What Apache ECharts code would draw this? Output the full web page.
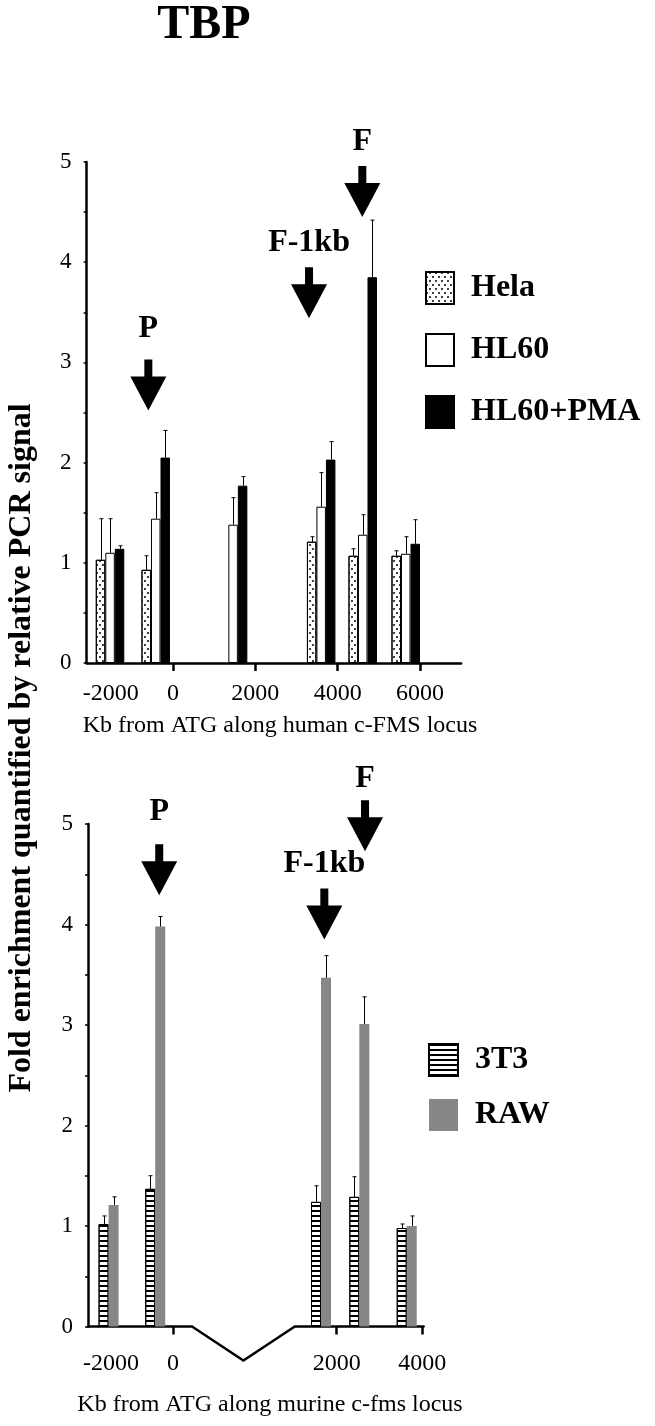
<!DOCTYPE html>
<html lang="en">
<head>
<meta charset="UTF-8">
<title>TBP</title>
<script src="https://cdn.jsdelivr.net/npm/echarts@6/dist/echarts.min.js"></script>
<style>
  html, body { margin: 0; padding: 0; background: #fff; }
  #chart { width: 655px; height: 1426px; }
</style>
</head>
<body>
<div id="chart"></div>
<script>
// ---- top panel: human c-FMS locus ----
var humanPos = [-1530, -420, 1460, 3600, 4610, 5655];
var hela = [1.03, 0.93, null, 1.21, 1.07, 1.07];
var helaErr = [0.41, 0.14, null, 0.05, 0.07, 0.05];
var hl60 = [1.10, 1.44, 1.38, 1.56, 1.28, 1.09];
var hl60Err = [0.34, 0.26, 0.27, 0.34, 0.20, 0.17];
var pma = [1.14, 2.05, 1.77, 2.03, 3.85, 1.19];
var pmaErr = [0.03, 0.27, 0.09, 0.18, 0.57, 0.24];
// arrows: [x, tip, label y]
var humanArrows = [[-600, 2.52, 3.34], [3305, 3.44, 4.19], [4600, 4.45, 5.2]];
var humanArrowText = ['P', 'F-1kb', 'F'];
var humanTicks = [0, 2000, 4000, 6000];
var humanLabels = [-2000, 0, 2000, 4000, 6000];

// ---- bottom panel: murine c-fms locus (axis is broken between the two parts) ----
var murinePosA = [-1515, -416];
var murinePosB = [1633, 2528, 3636];
var t3 = [1.02, 1.37, 1.24, 1.29, 0.98];
var t3Err = [0.08, 0.13, 0.16, 0.20, 0.04];
var raw = [1.21, 3.98, 3.47, 3.01, 1.00];
var rawErr = [0.08, 0.10, 0.22, 0.27, 0.10];
var murineArrowsA = [[-322, 4.29, 5.12]];
var murineArrowTextA = ['P'];
var murineArrowsB = [[1710, 3.85, 4.60], [2661, 4.73, 5.45]];
var murineArrowTextB = ['F-1kb', 'F'];
var murineTicksA = [0], murineLabelsA = [-2000, 0];
var murineTicksB = [2000, 4000], murineLabelsB = [2000, 4000];

var serif = "'Liberation Serif', 'DejaVu Serif', serif";

// grid layout (px)
var G0 = {left: 86.6, top: 162, width: 374.5, height: 501};
var G1 = {left: 88, top: 824, width: 104, height: 502.5};
var G2 = {left: 294.8, top: 824, width: 128.8, height: 502.5};

function zip(xs, ys) {
    return xs.map(function (x, i) { return [x, ys[i] == null ? '-' : ys[i]]; });
}
function errData(xs, ys, es) {
    var out = [];
    xs.forEach(function (x, i) { if (ys[i] != null) out.push([x, ys[i], es[i]]); });
    return out;
}

var dots = {
    symbol: 'circle', symbolSize: 1, color: '#000',
    dashArrayX: [[2, 4], [0, 3, 2, 1]], dashArrayY: [2, 2]
};
var stripes = {
    symbol: 'rect', symbolSize: 1, color: '#000',
    dashArrayX: [[10, 0]], dashArrayY: [2, 3]
};

function barSeries(name, xi, data, color, decal, border, width) {
    return {
        name: name, type: 'bar', xAxisIndex: xi, yAxisIndex: xi,
        barWidth: width, barGap: '0%', data: data,
        itemStyle: {
            color: color, decal: decal,
            borderColor: border ? '#000' : color, borderWidth: border ? 1 : 0
        }
    };
}

function errSeries(xi, data, offset) {
    return {
        type: 'custom', xAxisIndex: xi, yAxisIndex: xi, silent: true, z: 5, data: data,
        renderItem: function (params, api) {
            var p0 = api.coord([api.value(0), api.value(1)]);
            var p1 = api.coord([api.value(0), api.value(1) + api.value(2)]);
            var x = Math.round(p0[0] + offset) + 0.5;
            return {
                type: 'group', children: [
                    {type: 'line', shape: {x1: x, y1: p0[1], x2: x, y2: p1[1]}, style: {stroke: '#000', lineWidth: 1}},
                    {type: 'line', shape: {x1: x - 2, y1: p1[1], x2: x + 2, y2: p1[1]}, style: {stroke: '#000', lineWidth: 1}}
                ]
            };
        }
    };
}

function arrowSeries(xi, pts, texts) {
    return {
        type: 'custom', xAxisIndex: xi, yAxisIndex: xi, silent: true, z: 6, clip: false, data: pts,
        renderItem: function (params, api) {
            var tip = api.coord([api.value(0), api.value(1)]);
            var lab = api.coord([api.value(0), api.value(2)]);
            var x = tip[0], y = tip[1];
            return {
                type: 'group', children: [
                    {type: 'polygon', shape: {points: [[x - 4, y - 51], [x + 4, y - 51], [x + 4, y - 34], [x + 18, y - 34], [x, y], [x - 18, y - 34], [x - 4, y - 34]]}, style: {fill: '#000'}},
                    {type: 'text', x: lab[0], y: lab[1], style: {text: texts[params.dataIndex], fill: '#000', font: 'bold 32px ' + serif, align: 'center', verticalAlign: 'middle'}}
                ]
            };
        }
    };
}

function xAxis(gi, min, max, ticks, labels, margin, shift) {
    return {
        gridIndex: gi, type: 'value', min: min, max: max,
        axisLine: {show: true, onZero: false, lineStyle: {color: '#000', width: 2.5}},
        axisTick: {show: true, customValues: ticks, length: 8, lineStyle: {color: '#000', width: 2.5}},
        axisLabel: {
            customValues: labels, margin: margin, color: '#000', fontSize: 24, fontFamily: serif,
            formatter: function (v) { return v === -2000 ? '{n|-2000}' : String(v); },
            rich: {n: {padding: [0, 0, 0, shift], color: '#000', fontSize: 24, fontFamily: serif}}
        },
        splitLine: {show: false}
    };
}

function yAxis(gi, show) {
    return {
        gridIndex: gi, type: 'value', min: 0, max: 5, interval: 0.5, show: show,
        axisLine: {show: true, onZero: false, lineStyle: {color: '#000', width: 2.5}},
        axisTick: {show: true, length: 3, lineStyle: {color: '#000', width: 1.5}},
        axisLabel: {
            margin: 15, color: '#000', fontSize: 23, fontFamily: serif,
            formatter: function (v) { return v % 1 === 0 ? String(v) : ''; }
        },
        splitLine: {show: false}
    };
}

var legendText = {color: '#000', fontSize: 32, fontWeight: 'bold', fontFamily: serif, lineHeight: 32, padding: [0, 0, 0, 12]};

var chart = echarts.init(document.getElementById('chart'));
var option = {
    backgroundColor: '#fff',
    animation: false,
    grid: [G0, G1, G2],
    xAxis: [
        xAxis(0, -2100, 7000, humanTicks, humanLabels, 19, 40),
        xAxis(1, -2000, 450, murineTicksA, murineLabelsA, 25, 46),
        xAxis(2, 1020, 4030, murineTicksB, murineLabelsB, 25, 0)
    ],
    yAxis: [yAxis(0, true), yAxis(1, true), yAxis(2, false)],
    legend: [
        {data: ['Hela', 'HL60', 'HL60+PMA'], orient: 'vertical', left: 425, top: 271, padding: 0,
         itemWidth: 28, itemHeight: 32, itemGap: 28, icon: 'rect', selectedMode: false, textStyle: legendText},
        {data: ['3T3', 'RAW'], orient: 'vertical', left: 428, top: 1043, padding: 0,
         itemWidth: 29, itemHeight: 32, itemGap: 22, icon: 'rect', selectedMode: false, textStyle: legendText}
    ],
    series: [
        barSeries('Hela', 0, zip(humanPos, hela), '#fff', dots, true, 9.5),
        barSeries('HL60', 0, zip(humanPos, hl60), '#fff', null, true, 9.5),
        barSeries('HL60+PMA', 0, zip(humanPos, pma), '#000', null, true, 9.5),
        errSeries(0, errData(humanPos, hela, helaErr), -9.5),
        errSeries(0, errData(humanPos, hl60, hl60Err), 0),
        errSeries(0, errData(humanPos, pma, pmaErr), 9.5),
        arrowSeries(0, humanArrows, humanArrowText),

        barSeries('3T3', 1, zip(murinePosA, t3.slice(0, 2)), '#fff', stripes, true, 10),
        barSeries('RAW', 1, zip(murinePosA, raw.slice(0, 2)), '#878787', null, false, 10),
        barSeries('3T3', 2, zip(murinePosB, t3.slice(2)), '#fff', stripes, true, 10),
        barSeries('RAW', 2, zip(murinePosB, raw.slice(2)), '#878787', null, false, 10),
        errSeries(1, errData(murinePosA, t3.slice(0, 2), t3Err.slice(0, 2)), -5),
        errSeries(1, errData(murinePosA, raw.slice(0, 2), rawErr.slice(0, 2)), 5),
        errSeries(2, errData(murinePosB, t3.slice(2), t3Err.slice(2)), -5),
        errSeries(2, errData(murinePosB, raw.slice(2), rawErr.slice(2)), 5),
        arrowSeries(1, murineArrowsA, murineArrowTextA),
        arrowSeries(2, murineArrowsB, murineArrowTextB)
    ],
    graphic: [
        {type: 'text', x: 204, y: 26, style: {text: 'TBP', fill: '#000', font: 'bold 48px ' + serif, align: 'center', verticalAlign: 'middle'}},
        {type: 'text', x: 22, y: 748, rotation: Math.PI / 2,
         style: {text: 'Fold enrichment quantified by relative PCR signal', fill: '#000', font: 'bold 32px ' + serif, align: 'center', verticalAlign: 'middle'}},
        {type: 'text', x: 280, y: 726, style: {text: 'Kb from ATG along human c-FMS locus', fill: '#000', font: '24px ' + serif, align: 'center', verticalAlign: 'middle'}},
        {type: 'text', x: 270, y: 1405, style: {text: 'Kb from ATG along murine c-fms locus', fill: '#000', font: '24px ' + serif, align: 'center', verticalAlign: 'middle'}},
        // axis break between the two murine segments
        {type: 'polyline', shape: {points: [
            [G1.left + G1.width, G1.top + G1.height],
            [(G1.left + G1.width + G2.left) / 2, G1.top + G1.height + 34],
            [G2.left, G2.top + G2.height]
        ]}, style: {stroke: '#000', lineWidth: 2.5, fill: null}}
    ]
};
chart.setOption(option);
</script>
</body>
</html>
